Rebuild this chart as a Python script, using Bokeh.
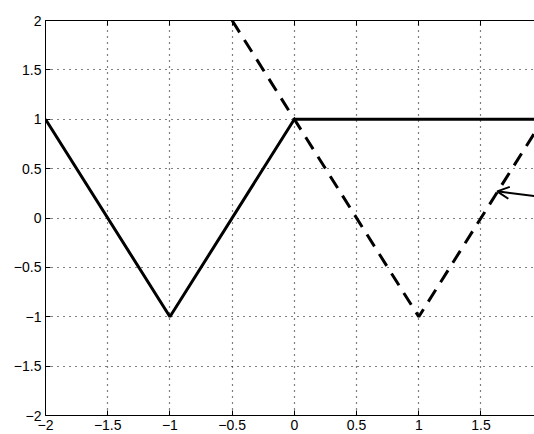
from bokeh.plotting import figure
from bokeh.models import FixedTicker, LinearAxis, Range1d, Arrow, OpenHead
from bokeh.embed import file_html
from bokeh.resources import INLINE

# data
solid_x = [-2, -1, 0, 2]
solid_y = [1, -1, 1, 1]
dashed_x = [-0.5, 1, 2]
dashed_y = [2, -1, 1]
arrow_start = (1.95, 0.22)
arrow_end = (1.63, 0.27)

x_ticks = [-2, -1.5, -1, -0.5, 0, 0.5, 1, 1.5]
x_tick_labels = ["\u22122", "\u22121.5", "\u22121", "\u22120.5", "0", "0.5", "1", "1.5"]
y_ticks = [-2, -1.5, -1, -0.5, 0, 0.5, 1, 1.5, 2]
y_tick_labels = ["\u22122", "\u22121.5", "\u22121", "\u22120.5", "0", "0.5", "1", "1.5", "2"]

FONT = "Liberation Sans"

p = figure(width=534, height=434, output_backend="svg", toolbar_location=None,
           x_range=Range1d(-2, 1.93), y_range=Range1d(-2, 2),
           min_border_left=45, min_border_top=20, min_border_bottom=19, min_border_right=0,
           x_axis_location=None, y_axis_location=None)
p.outline_line_color = None
p.background_fill_color = "white"
p.border_fill_color = "white"

def style_axis(ax, ticks, labels):
    ax.ticker = FixedTicker(ticks=ticks)
    ax.major_label_overrides = {t: l for t, l in zip(ticks, labels)}
    ax.axis_line_color = "black"
    ax.axis_line_width = 1
    ax.major_tick_in = 5
    ax.major_tick_out = 0
    ax.minor_tick_in = 0
    ax.minor_tick_out = 0
    ax.major_tick_line_color = "black"
    ax.major_label_text_font = FONT
    ax.major_label_text_font_size = "14px"
    ax.major_label_text_color = "black"
    ax.major_label_standoff = 4

xb = LinearAxis()
style_axis(xb, x_ticks, x_tick_labels)
p.add_layout(xb, "below")
yl = LinearAxis()
style_axis(yl, y_ticks, y_tick_labels)
p.add_layout(yl, "left")
xa = LinearAxis()
style_axis(xa, x_ticks, ["" for _ in x_ticks])
xa.major_label_standoff = 0
p.add_layout(xa, "above")

p.xgrid.ticker = FixedTicker(ticks=x_ticks)
p.ygrid.ticker = FixedTicker(ticks=y_ticks)
for g in (p.xgrid, p.ygrid):
    g.grid_line_color = "black"
    g.grid_line_dash = "1 5"
    g.grid_line_width = 1.2
    g.grid_line_alpha = 1.0

p.line(solid_x, solid_y, line_color="black", line_width=3)
p.line(dashed_x, dashed_y, line_color="black", line_width=3, line_dash="14 9")

p.add_layout(Arrow(end=OpenHead(size=12, line_width=2, line_color="black"),
                   x_start=arrow_start[0], y_start=arrow_start[1],
                   x_end=arrow_end[0], y_end=arrow_end[1],
                   line_width=2, line_color="black"))

open("out.html", "w").write(file_html(p, INLINE))
